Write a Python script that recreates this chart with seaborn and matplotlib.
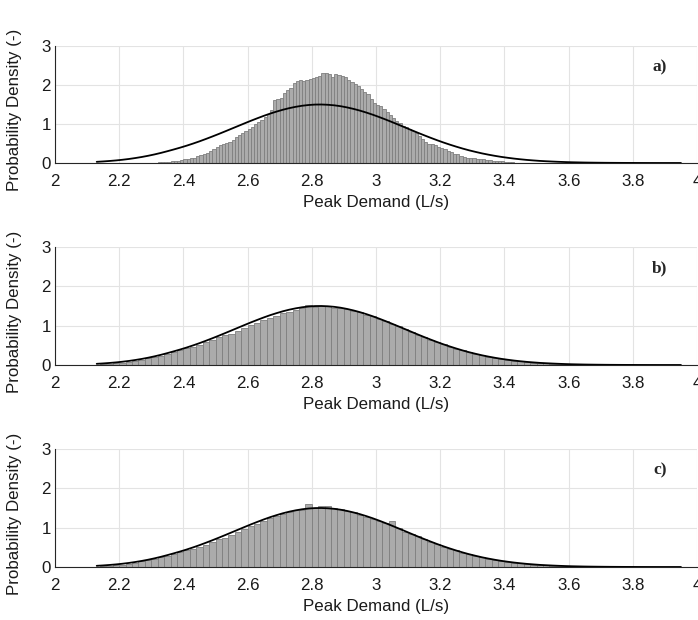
import numpy as np
import pandas as pd
import matplotlib
matplotlib.use("Agg")
import matplotlib.pyplot as plt
import seaborn as sns

# ---------------- data ----------------
panel_labels = ["a)", "b)", "c)"]
x_ticks = [2, 2.2, 2.4, 2.6, 2.8, 3, 3.2, 3.4, 3.6, 3.8, 4]
y_ticks = [0, 1, 2, 3]
x_label = "Peak Demand (L/s)"
y_label = "Probability Density (-)"

# panel a: bins of width 0.01 starting at 2.30
hist_a_start, hist_a_width = 2.30, 0.01
hist_a = [0.01, 0.01, 0.02, 0.02, 0.03, 0.03, 0.04, 0.05, 0.06, 0.08,
          0.09, 0.10, 0.12, 0.14, 0.17, 0.20, 0.22, 0.26, 0.30, 0.35,
          0.42, 0.46, 0.49, 0.52, 0.55, 0.60, 0.66, 0.71, 0.76, 0.82,
          0.88, 0.93, 0.99, 1.05, 1.11, 1.18, 1.25, 1.35, 1.62, 1.64,
          1.66, 1.80, 1.87, 1.92, 2.05, 2.09, 2.12, 2.11, 2.14, 2.16,
          2.18, 2.20, 2.22, 2.30, 2.30, 2.29, 2.20, 2.28, 2.25, 2.24,
          2.20, 2.14, 2.08, 2.02, 1.97, 1.90, 1.82, 1.78, 1.65, 1.55,
          1.50, 1.46, 1.38, 1.30, 1.22, 1.15, 1.08, 1.02, 0.96, 0.92,
          0.88, 0.82, 0.76, 0.70, 0.62, 0.55, 0.50, 0.48, 0.46, 0.42,
          0.38, 0.35, 0.32, 0.28, 0.24, 0.22, 0.19, 0.16, 0.14, 0.13,
          0.12, 0.11, 0.10, 0.09, 0.08, 0.07, 0.06, 0.05, 0.04, 0.04,
          0.03, 0.02, 0.02, 0.01, 0.01]

# panels b and c: bins of width 0.02 starting at 2.12
hist_bc_start, hist_bc_width = 2.12, 0.02
hist_b = [0.01, 0.02, 0.03, 0.04, 0.06, 0.08, 0.10, 0.13, 0.17, 0.20,
          0.24, 0.29, 0.33, 0.38, 0.43, 0.47, 0.52, 0.58, 0.64, 0.70,
          0.76, 0.80, 0.86, 0.94, 1.02, 1.08, 1.14, 1.19, 1.25, 1.31,
          1.36, 1.41, 1.44, 1.53, 1.47, 1.49, 1.49, 1.46, 1.45, 1.42,
          1.38, 1.34, 1.28, 1.24, 1.16, 1.11, 1.05, 0.98, 0.91, 0.84,
          0.77, 0.71, 0.64, 0.58, 0.53, 0.47, 0.41, 0.37, 0.32, 0.28,
          0.25, 0.21, 0.18, 0.16, 0.13, 0.11, 0.09, 0.08, 0.06, 0.05,
          0.04, 0.03, 0.03, 0.02]
hist_c = [0.01, 0.02, 0.03, 0.05, 0.06, 0.08, 0.11, 0.14, 0.17, 0.21,
          0.25, 0.29, 0.33, 0.37, 0.42, 0.46, 0.52, 0.57, 0.63, 0.70,
          0.75, 0.82, 0.88, 0.96, 1.03, 1.10, 1.18, 1.24, 1.29, 1.35,
          1.40, 1.44, 1.46, 1.59, 1.50, 1.56, 1.54, 1.50, 1.47, 1.43,
          1.39, 1.33, 1.27, 1.23, 1.16, 1.12, 1.16, 0.98, 0.90, 0.84,
          0.78, 0.70, 0.64, 0.58, 0.52, 0.47, 0.42, 0.36, 0.32, 0.28,
          0.25, 0.21, 0.18, 0.16, 0.13, 0.11, 0.09, 0.08, 0.06, 0.05,
          0.04, 0.03, 0.03, 0.02]

# fitted density curve, sampled every 0.02 from 2.13
curve_start, curve_step = 2.13, 0.02
curve_y = [0.030, 0.040, 0.052, 0.066, 0.083, 0.103, 0.127, 0.154, 0.185, 0.220,
           0.259, 0.302, 0.347, 0.394, 0.444, 0.498, 0.555, 0.616, 0.679, 0.744,
           0.811, 0.879, 0.947, 1.015, 1.082, 1.146, 1.208, 1.266, 1.318, 1.366,
           1.407, 1.441, 1.468, 1.487, 1.498, 1.500, 1.493, 1.479, 1.456, 1.425,
           1.387, 1.343, 1.293, 1.238, 1.178, 1.115, 1.049, 0.982, 0.914, 0.845,
           0.777, 0.711, 0.647, 0.585, 0.526, 0.471, 0.419, 0.370, 0.325, 0.285,
           0.247, 0.214, 0.184, 0.157, 0.134, 0.113, 0.095, 0.079, 0.066, 0.054,
           0.045, 0.037, 0.030, 0.024, 0.019, 0.0154, 0.012, 0.0096, 0.0076, 0.0059,
           0.0046, 0.0036, 0.0027, 0.0021, 0.0016, 0.0012, 0.0009, 0.0007, 0.0005, 0.0004,
           0.0003, 0.0002]

# ---------------- style ----------------
sns.set_style("whitegrid")
plt.rcParams["font.family"] = ["Liberation Sans", "DejaVu Sans"]

BAR_FACE = "#ababab"
BAR_EDGE = "#7f7f7f"
GRID = "#e3e3e3"
AXIS = "#262626"
FS = 12.2

fig = plt.figure(figsize=(6.98, 6.2), dpi=100)

W, H = 698.0, 620.0
left_px, right_px = 55.0, 697.0
panels_px = [(46, 163), (247, 365), (449, 567)]

def make_hist_df(start, width, values):
    n = len(values)
    centers = np.round(start + width * (np.arange(n) + 0.5), 5)
    return pd.DataFrame({"x": centers, "h": values}), (start, start + n * width), width

curve_x = np.round(curve_start + curve_step * np.arange(len(curve_y)), 4)
curve_df = pd.DataFrame({"x": curve_x, "y": curve_y})

hist_sets = [
    make_hist_df(hist_a_start, hist_a_width, hist_a),
    make_hist_df(hist_bc_start, hist_bc_width, hist_b),
    make_hist_df(hist_bc_start, hist_bc_width, hist_c),
]

for (top_px, bot_px), (df, brange, bw), lab in zip(panels_px, hist_sets, panel_labels):
    ax = fig.add_axes([left_px / W, 1 - bot_px / H,
                       (right_px - left_px) / W, (bot_px - top_px) / H])
    sns.histplot(data=df, x="x", weights="h", binwidth=bw, binrange=brange,
                 stat="count", color=BAR_FACE, edgecolor=BAR_EDGE, alpha=1,
                 linewidth=0.6, ax=ax)
    sns.lineplot(data=curve_df, x="x", y="y", color="black", linewidth=1.3,
                 ax=ax)
    ax.set_xlim(2, 4)
    ax.set_ylim(0, 3)
    ax.set_xticks(x_ticks)
    ax.set_xticklabels([f"{t:g}" for t in x_ticks])
    ax.set_yticks(y_ticks)
    ax.set_axisbelow(True)
    ax.grid(True, color=GRID, linewidth=0.8)
    for s in ["top", "right"]:
        ax.spines[s].set_visible(False)
    for s in ["left", "bottom"]:
        ax.spines[s].set_visible(True)
        ax.spines[s].set_color(AXIS)
        ax.spines[s].set_linewidth(0.8)
    ax.tick_params(axis="both", direction="in", length=4, width=0.8,
                   color=AXIS, labelsize=FS, labelcolor="#1a1a1a")
    ax.tick_params(axis="x", pad=8)
    ax.tick_params(axis="y", pad=3)
    ax.set_xlabel(x_label, fontsize=FS, color="#1a1a1a", labelpad=4)
    ax.set_ylabel(y_label, fontsize=FS, color="#1a1a1a")
    ax.yaxis.set_label_coords(-0.052, 0.45)
    ax.text(0.942, 0.82, lab, transform=ax.transAxes, ha="center", va="center",
            fontsize=12.5, fontweight="bold", family=["Liberation Serif", "DejaVu Serif"])

fig.savefig("out.png", dpi=100)
